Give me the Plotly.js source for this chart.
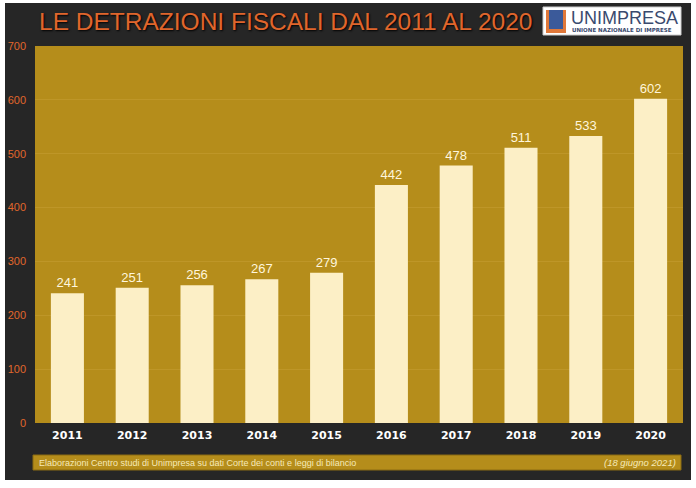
<!DOCTYPE html>
<html>
<head>
<meta charset="utf-8">
<script src="https://cdn.plot.ly/plotly-3.0.1.min.js"></script>
<style>
  html, body { margin: 0; padding: 0; background: #ffffff; }
  #chart { width: 696px; height: 488px; }
</style>
</head>
<body>
<div id="chart"></div>
<script>
var years = ['2011', '2012', '2013', '2014', '2015', '2016', '2017', '2018', '2019', '2020'];
var detrazioni = [241, 251, 256, 267, 279, 442, 478, 511, 533, 602];
var yTicks = [0, 100, 200, 300, 400, 500, 600, 700];

var titleText = 'LE DETRAZIONI FISCALI DAL 2011 AL 2020';
var sourceText = 'Elaborazioni Centro studi di Unimpresa su dati Corte dei conti e leggi di bilancio';
var dateText = '(18 giugno 2021)';

var goldColor = '#b58d1b';
var barColor = '#fcefc6';
var darkColor = '#262626';
var orangeColor = '#e0662c';

// plot area in pixels: left 35, right 683, top 46, bottom 423
var W = 696, H = 488;
var mL = 35, mR = 13, mT = 46, mB = 65;
var pw = W - mL - mR, ph = H - mT - mB;
var px = function (x) { return (x - mL) / pw; };
var py = function (y) { return (H - mB - y) / ph; };

var rect = function (x0, y0, x1, y1, color, line) {
    return {
        type: 'rect', xref: 'paper', yref: 'paper', layer: 'below',
        x0: px(x0), x1: px(x1), y0: py(y1), y1: py(y0),
        fillcolor: color,
        line: line || {width: 0}
    };
};

var data = [
    {
        x: years,
        y: detrazioni,
        type: 'bar',
        marker: {color: barColor, line: {width: 0}},
        text: detrazioni.map(String),
        textposition: 'outside',
        textfont: {family: 'Liberation Sans, Arial, sans-serif', size: 13, color: '#fff6dc'},
        cliponaxis: false,
        hoverinfo: 'x+y'
    }
];

var layout = {
    width: W,
    height: H,
    margin: {l: mL, r: mR, t: mT, b: mB, pad: 0},
    paper_bgcolor: '#ffffff',
    plot_bgcolor: 'rgba(0,0,0,0)',
    showlegend: false,
    bargap: 0.49,
    font: {family: 'Liberation Sans, Arial, sans-serif'},
    xaxis: {
        type: 'category',
        showgrid: false,
        zeroline: false,
        showline: false,
        ticks: '',
        ticklabelstandoff: 4,
        tickfont: {family: 'DejaVu Sans, sans-serif', size: 11, color: '#ffffff', weight: 'bold'}
    },
    yaxis: {
        range: [0, 700],
        tickvals: yTicks,
        showgrid: true,
        gridcolor: 'rgba(255,225,140,0.12)',
        gridwidth: 1,
        zeroline: false,
        showline: false,
        ticks: '',
        ticklabelstandoff: 8,
        tickfont: {family: 'Liberation Sans, Arial, sans-serif', size: 11, color: orangeColor}
    },
    shapes: [
        rect(5, 3, 691, 480, darkColor),
        rect(35, 46, 683, 423, goldColor),
        rect(33, 455, 681, 470, goldColor, {color: '#8a6a12', width: 1}),
        // logo
        rect(543, 7, 681, 35, '#ffffff', {color: '#cccccc', width: 1}),
        rect(546, 10, 566, 33, '#e0783a'),
        rect(549, 10, 563, 29, '#3b5a9a')
    ],
    annotations: [
        {
            xref: 'paper', yref: 'paper', x: px(37), y: py(21),
            xanchor: 'left', yanchor: 'middle', showarrow: false,
            text: titleText,
            font: {family: 'Liberation Sans, Arial, sans-serif', size: 24.5, color: orangeColor,
                   shadow: '1px 1px 2px #000000'}
        },
        {
            xref: 'paper', yref: 'paper', x: px(569), y: py(18),
            xanchor: 'left', yanchor: 'middle', showarrow: false,
            text: 'UNIMPRESA',
            font: {family: 'Liberation Sans, Arial, sans-serif', size: 18, color: '#3a4a6e'}
        },
        {
            xref: 'paper', yref: 'paper', x: px(570), y: py(29.5),
            xanchor: 'left', yanchor: 'middle', showarrow: false,
            text: 'UNIONE NAZIONALE DI IMPRESE',
            font: {family: 'DejaVu Sans, sans-serif', size: 5.5, color: '#3a4a6e', weight: 'bold'}
        },
        {
            xref: 'paper', yref: 'paper', x: px(37), y: py(462.5),
            xanchor: 'left', yanchor: 'middle', showarrow: false,
            text: sourceText,
            font: {family: 'Liberation Sans, Arial, sans-serif', size: 9, color: '#f6eab8'}
        },
        {
            xref: 'paper', yref: 'paper', x: px(678), y: py(462.5),
            xanchor: 'right', yanchor: 'middle', showarrow: false,
            text: '<i>' + dateText + '</i>',
            font: {family: 'Liberation Sans, Arial, sans-serif', size: 9.5, color: '#f6eab8'}
        }
    ]
};

Plotly.newPlot('chart', data, layout, {displayModeBar: false});
</script>
</body>
</html>
